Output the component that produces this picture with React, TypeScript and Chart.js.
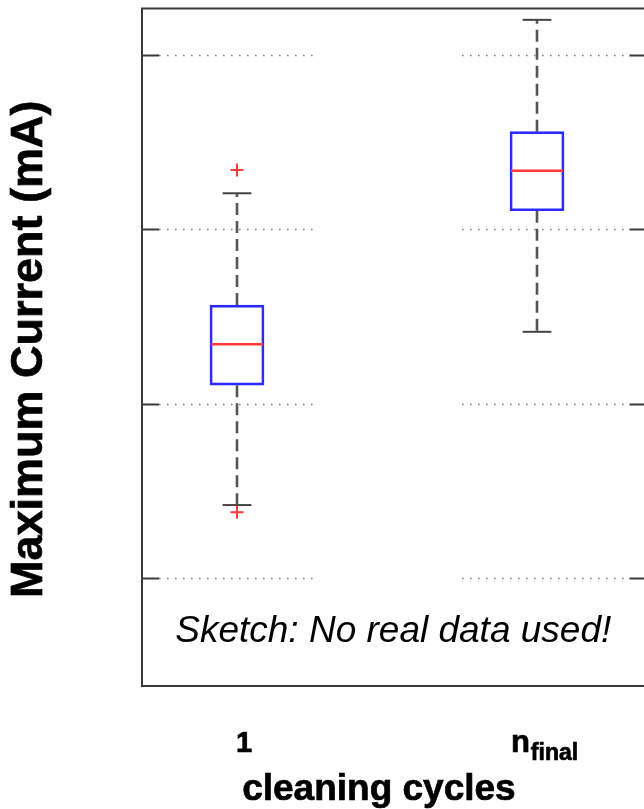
import React, { useEffect, useRef } from "react";
import { Chart, registerables } from "chart.js";

Chart.register(...registerables);

// Box-plot statistics per group (arbitrary units, y ticks are unlabeled)
const categories = ["1", "n_final"];
const categoryPositions = [1, 2];
const whiskerLow = [1.42, 2.413];
const quartile1 = [2.107, 3.107];
const medians = [2.342, 3.336];
const quartile3 = [2.566, 3.56];
const whiskerHigh = [3.207, 4.201];

// Flagged outliers
const outlierCategory = [1, 1];
const outlierValues = [3.34, 1.379];

const yTicks = [1, 2, 3, 4];

const yAxisTitle = "Maximum Current (mA)";
const xAxisTitle = "cleaning cycles";
const noteText = "Sketch: No real data used!";

const FONT = "'Liberation Sans', Arial, Helvetica, sans-serif";
const CANVAS_W = 680;
const CANVAS_H = 809;

const BOX_HALF = 0.09; // half box width in x units
const CAP_HALF = 0.048; // half whisker-cap width in x units
const TICK_LEN = 17;

// bold text with a hairline outline for a heavier stroke weight
function heavyText(ctx: CanvasRenderingContext2D, text: string, x: number, y: number) {
  ctx.fillText(text, x, y);
  ctx.lineWidth = 0.7;
  ctx.strokeStyle = "#000000";
  ctx.strokeText(text, x, y);
}

const boxPlotDecor = {
  id: "boxPlotDecor",
  beforeDatasetsDraw(chart: any) {
    const { ctx, chartArea, scales } = chart;
    const xs = scales.x;
    const ys = scales.y;
    ctx.save();
    // dotted grid, interrupted between the two groups
    ctx.strokeStyle = "#808080";
    ctx.lineWidth = 1.5;
    ctx.setLineDash([1.6, 6.4]);
    for (const t of yTicks) {
      const py = Math.round(ys.getPixelForValue(t)) + 0.5;
      ctx.beginPath();
      ctx.moveTo(chartArea.left + TICK_LEN, py);
      ctx.lineTo(xs.getPixelForValue(1.255), py);
      ctx.moveTo(xs.getPixelForValue(1.75), py);
      ctx.lineTo(chartArea.right - TICK_LEN, py);
      ctx.stroke();
    }
    // whiskers
    ctx.strokeStyle = "#555555";
    ctx.lineWidth = 2.6;
    ctx.setLineDash([12, 6]);
    categoryPositions.forEach((c, i) => {
      const px = xs.getPixelForValue(c);
      ctx.beginPath();
      ctx.moveTo(px, ys.getPixelForValue(quartile3[i]));
      ctx.lineTo(px, ys.getPixelForValue(whiskerHigh[i]));
      ctx.stroke();
      ctx.beginPath();
      ctx.moveTo(px, ys.getPixelForValue(quartile1[i]));
      ctx.lineTo(px, ys.getPixelForValue(whiskerLow[i]));
      ctx.stroke();
    });
    // whisker caps
    ctx.setLineDash([]);
    ctx.strokeStyle = "#444444";
    ctx.lineWidth = 2;
    categoryPositions.forEach((c, i) => {
      for (const v of [whiskerHigh[i], whiskerLow[i]]) {
        const py = ys.getPixelForValue(v);
        ctx.beginPath();
        ctx.moveTo(xs.getPixelForValue(c - CAP_HALF), py);
        ctx.lineTo(xs.getPixelForValue(c + CAP_HALF), py);
        ctx.stroke();
      }
    });
    ctx.restore();
  },
  afterDatasetsDraw(chart: any) {
    const { ctx, chartArea, scales } = chart;
    const xs = scales.x;
    const ys = scales.y;
    ctx.save();
    // medians
    ctx.strokeStyle = "#ff3a3a";
    ctx.lineWidth = 2.4;
    categoryPositions.forEach((c, i) => {
      const py = ys.getPixelForValue(medians[i]);
      ctx.beginPath();
      ctx.moveTo(xs.getPixelForValue(c - BOX_HALF) + 1, py);
      ctx.lineTo(xs.getPixelForValue(c + BOX_HALF) - 1, py);
      ctx.stroke();
    });
    // axes frame
    ctx.strokeStyle = "#3a3a3a";
    ctx.lineWidth = 2;
    ctx.strokeRect(chartArea.left, chartArea.top, chartArea.right - chartArea.left, chartArea.bottom - chartArea.top);
    // inward tick marks on both sides
    for (const t of yTicks) {
      const py = Math.round(ys.getPixelForValue(t)) + 0.5;
      ctx.beginPath();
      ctx.moveTo(chartArea.left, py);
      ctx.lineTo(chartArea.left + TICK_LEN, py);
      ctx.moveTo(chartArea.right - TICK_LEN, py);
      ctx.lineTo(chartArea.right, py);
      ctx.stroke();
    }
    ctx.fillStyle = "#000000";
    // note inside the axes
    ctx.font = `italic 37px ${FONT}`;
    ctx.textAlign = "center";
    ctx.textBaseline = "alphabetic";
    ctx.fillText(noteText, (chartArea.left + chartArea.right) / 2 - 1, 642);
    // category labels
    const labelOffset = 7;
    categories.forEach((lab, i) => {
      const px = xs.getPixelForValue(categoryPositions[i]) + labelOffset;
      if (lab.includes("_")) {
        const [main, sub] = lab.split("_");
        ctx.font = `bold 31px ${FONT}`;
        const w1 = ctx.measureText(main).width;
        ctx.font = `bold 23px ${FONT}`;
        const w2 = ctx.measureText(sub).width;
        const start = px - (w1 + w2) / 2;
        ctx.textAlign = "left";
        ctx.font = `bold 31px ${FONT}`;
        heavyText(ctx, main, start, 752);
        ctx.font = `bold 23px ${FONT}`;
        heavyText(ctx, sub, start + w1 + 1, 760);
      } else {
        ctx.textAlign = "center";
        ctx.font = `bold 29px ${FONT}`;
        heavyText(ctx, lab, px, 752);
      }
    });
    // x-axis title
    ctx.textAlign = "center";
    ctx.font = `bold 37px ${FONT}`;
    heavyText(ctx, xAxisTitle, xs.getPixelForValue(1.473), 800);
    // y-axis title
    ctx.translate(30, (chartArea.top + chartArea.bottom) / 2 + 2);
    ctx.rotate(-Math.PI / 2);
    ctx.font = `bold 45px ${FONT}`;
    ctx.textBaseline = "middle";
    heavyText(ctx, yAxisTitle, 0, 0);
    ctx.restore();
  },
};

export default function App() {
  const canvasRef = useRef<HTMLCanvasElement | null>(null);

  useEffect(() => {
    const canvas = canvasRef.current;
    if (!canvas) return;
    const chart = new Chart(canvas, {
      type: "bar",
      data: {
        datasets: [
          {
            type: "bar",
            data: categoryPositions.map((x, i) => ({ x, y: [quartile1[i], quartile3[i]] })) as any,
            backgroundColor: "rgba(0,0,0,0)",
            borderColor: "#2b2bff",
            borderWidth: 2,
            borderSkipped: false,
            barThickness: 54,
            order: 2,
          } as any,
          {
            type: "scatter",
            data: outlierValues.map((y, i) => ({ x: outlierCategory[i], y })),
            pointStyle: "cross",
            pointRadius: 6.5,
            borderColor: "#ff3b3b",
            backgroundColor: "#ff3b3b",
            borderWidth: 2,
            order: 1,
          } as any,
        ],
      },
      options: {
        responsive: false,
        devicePixelRatio: 1,
        animation: false,
        layout: { padding: { left: 142, top: 8, right: CANVAS_W - 646.5, bottom: CANVAS_H - 686 } },
        plugins: { legend: { display: false }, tooltip: { enabled: false } },
        scales: {
          x: { type: "linear", min: 0.6833, max: 2.365, display: false, offset: false },
          y: { type: "linear", min: 0.383, max: 4.266, display: false },
        },
      },
      plugins: [boxPlotDecor],
    });
    return () => chart.destroy();
  }, []);

  return (
    <div style={{ position: "fixed", left: 0, top: 0, width: 644, height: 809, overflow: "hidden", background: "#ffffff" }}>
      <canvas ref={canvasRef} width={CANVAS_W} height={CANVAS_H} style={{ display: "block", width: CANVAS_W, height: CANVAS_H }} />
    </div>
  );
}
